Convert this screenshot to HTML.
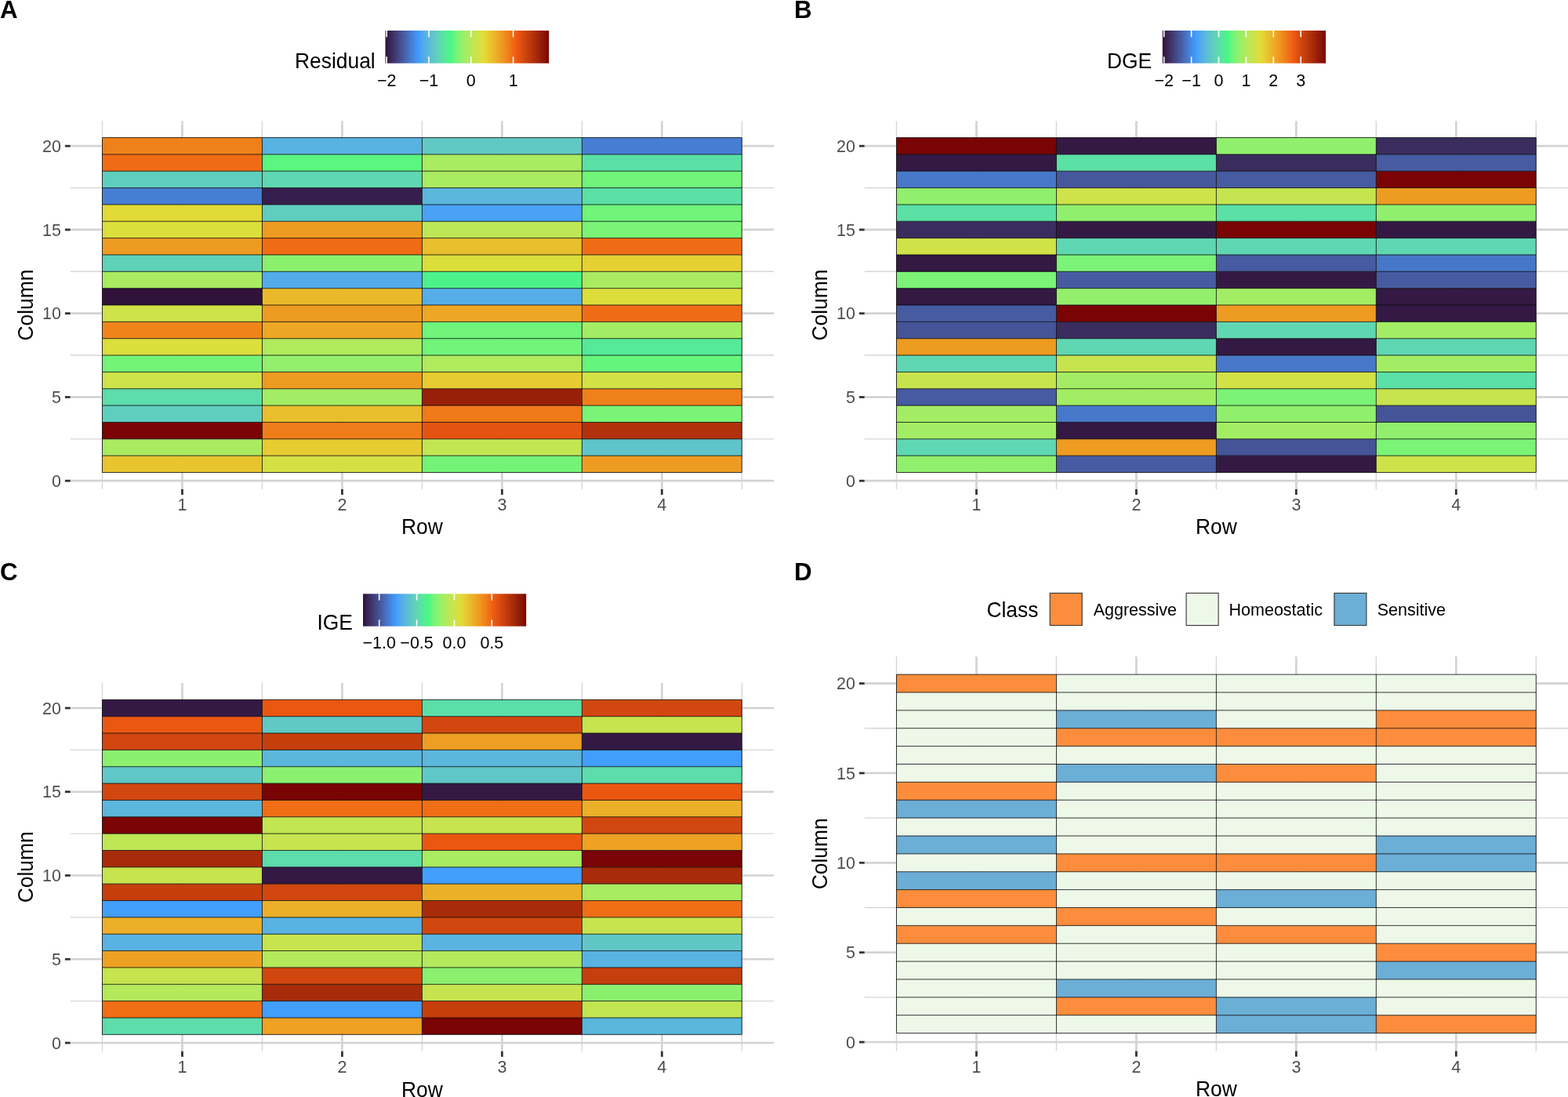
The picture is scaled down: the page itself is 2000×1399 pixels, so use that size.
<!DOCTYPE html>
<html><head><meta charset="utf-8"><title>Figure</title>
<style>html,body{margin:0;padding:0;background:#fff;} svg{display:block;} text{font-family:'Liberation Sans', Arial, Helvetica, sans-serif;}</style>
</head><body>
<svg width="2000" height="1399" viewBox="0 0 2000 1399">
<rect width="2000" height="1399" fill="#fff"/>
<line x1="89.71" y1="559.83" x2="987.05" y2="559.83" stroke="#D6D6D6" stroke-width="1.4"/>
<line x1="89.71" y1="453.07" x2="987.05" y2="453.07" stroke="#D6D6D6" stroke-width="1.4"/>
<line x1="89.71" y1="346.32" x2="987.05" y2="346.32" stroke="#D6D6D6" stroke-width="1.4"/>
<line x1="89.71" y1="239.57" x2="987.05" y2="239.57" stroke="#D6D6D6" stroke-width="1.4"/>
<line x1="130.50" y1="154.17" x2="130.50" y2="623.88" stroke="#D6D6D6" stroke-width="1.4"/>
<line x1="334.44" y1="154.17" x2="334.44" y2="623.88" stroke="#D6D6D6" stroke-width="1.4"/>
<line x1="538.38" y1="154.17" x2="538.38" y2="623.88" stroke="#D6D6D6" stroke-width="1.4"/>
<line x1="742.32" y1="154.17" x2="742.32" y2="623.88" stroke="#D6D6D6" stroke-width="1.4"/>
<line x1="946.26" y1="154.17" x2="946.26" y2="623.88" stroke="#D6D6D6" stroke-width="1.4"/>
<line x1="89.71" y1="613.20" x2="987.05" y2="613.20" stroke="#D3D3D3" stroke-width="2.7"/>
<line x1="89.71" y1="506.45" x2="987.05" y2="506.45" stroke="#D3D3D3" stroke-width="2.7"/>
<line x1="89.71" y1="399.70" x2="987.05" y2="399.70" stroke="#D3D3D3" stroke-width="2.7"/>
<line x1="89.71" y1="292.95" x2="987.05" y2="292.95" stroke="#D3D3D3" stroke-width="2.7"/>
<line x1="89.71" y1="186.20" x2="987.05" y2="186.20" stroke="#D3D3D3" stroke-width="2.7"/>
<line x1="232.47" y1="154.17" x2="232.47" y2="623.88" stroke="#D3D3D3" stroke-width="2.7"/>
<line x1="436.41" y1="154.17" x2="436.41" y2="623.88" stroke="#D3D3D3" stroke-width="2.7"/>
<line x1="640.35" y1="154.17" x2="640.35" y2="623.88" stroke="#D3D3D3" stroke-width="2.7"/>
<line x1="844.29" y1="154.17" x2="844.29" y2="623.88" stroke="#D3D3D3" stroke-width="2.7"/>
<rect x="130.50" y="581.17" width="203.94" height="21.35" fill="#e8c52f"/>
<rect x="334.44" y="581.17" width="203.94" height="21.35" fill="#d5e143"/>
<rect x="538.38" y="581.17" width="203.94" height="21.35" fill="#75f378"/>
<rect x="742.32" y="581.17" width="203.94" height="21.35" fill="#ee9b21"/>
<rect x="130.50" y="559.83" width="203.94" height="21.35" fill="#a9eb61"/>
<rect x="334.44" y="559.83" width="203.94" height="21.35" fill="#e6cb31"/>
<rect x="538.38" y="559.83" width="203.94" height="21.35" fill="#c2e652"/>
<rect x="742.32" y="559.83" width="203.94" height="21.35" fill="#5fc5ca"/>
<rect x="130.50" y="538.48" width="203.94" height="21.35" fill="#7a0403"/>
<rect x="334.44" y="538.48" width="203.94" height="21.35" fill="#f07d19"/>
<rect x="538.38" y="538.48" width="203.94" height="21.35" fill="#e45311"/>
<rect x="742.32" y="538.48" width="203.94" height="21.35" fill="#b0310b"/>
<rect x="130.50" y="517.12" width="203.94" height="21.35" fill="#60cebe"/>
<rect x="334.44" y="517.12" width="203.94" height="21.35" fill="#e9bf2d"/>
<rect x="538.38" y="517.12" width="203.94" height="21.35" fill="#f07918"/>
<rect x="742.32" y="517.12" width="203.94" height="21.35" fill="#7af376"/>
<rect x="130.50" y="495.78" width="203.94" height="21.35" fill="#5ddcac"/>
<rect x="334.44" y="495.78" width="203.94" height="21.35" fill="#a3ed64"/>
<rect x="538.38" y="495.78" width="203.94" height="21.35" fill="#992008"/>
<rect x="742.32" y="495.78" width="203.94" height="21.35" fill="#f0801a"/>
<rect x="130.50" y="474.43" width="203.94" height="21.35" fill="#cde349"/>
<rect x="334.44" y="474.43" width="203.94" height="21.35" fill="#ee9b21"/>
<rect x="538.38" y="474.43" width="203.94" height="21.35" fill="#e6cb31"/>
<rect x="742.32" y="474.43" width="203.94" height="21.35" fill="#d2e145"/>
<rect x="130.50" y="453.07" width="203.94" height="21.35" fill="#75f378"/>
<rect x="334.44" y="453.07" width="203.94" height="21.35" fill="#94ef6c"/>
<rect x="538.38" y="453.07" width="203.94" height="21.35" fill="#b0ea5d"/>
<rect x="742.32" y="453.07" width="203.94" height="21.35" fill="#64f57d"/>
<rect x="130.50" y="431.73" width="203.94" height="21.35" fill="#dcde3c"/>
<rect x="334.44" y="431.73" width="203.94" height="21.35" fill="#b0ea5d"/>
<rect x="538.38" y="431.73" width="203.94" height="21.35" fill="#70f47a"/>
<rect x="742.32" y="431.73" width="203.94" height="21.35" fill="#55ea99"/>
<rect x="130.50" y="410.38" width="203.94" height="21.35" fill="#f0841b"/>
<rect x="334.44" y="410.38" width="203.94" height="21.35" fill="#eda725"/>
<rect x="538.38" y="410.38" width="203.94" height="21.35" fill="#70f47a"/>
<rect x="742.32" y="410.38" width="203.94" height="21.35" fill="#a3ed64"/>
<rect x="130.50" y="389.02" width="203.94" height="21.35" fill="#cde349"/>
<rect x="334.44" y="389.02" width="203.94" height="21.35" fill="#ee9b21"/>
<rect x="538.38" y="389.02" width="203.94" height="21.35" fill="#eda725"/>
<rect x="742.32" y="389.02" width="203.94" height="21.35" fill="#f06b15"/>
<rect x="130.50" y="367.68" width="203.94" height="21.35" fill="#30123b"/>
<rect x="334.44" y="367.68" width="203.94" height="21.35" fill="#eab92b"/>
<rect x="538.38" y="367.68" width="203.94" height="21.35" fill="#55aee7"/>
<rect x="742.32" y="367.68" width="203.94" height="21.35" fill="#dcde3c"/>
<rect x="130.50" y="346.32" width="203.94" height="21.35" fill="#a9eb61"/>
<rect x="334.44" y="346.32" width="203.94" height="21.35" fill="#53abea"/>
<rect x="538.38" y="346.32" width="203.94" height="21.35" fill="#4cf38b"/>
<rect x="742.32" y="346.32" width="203.94" height="21.35" fill="#a9eb61"/>
<rect x="130.50" y="324.98" width="203.94" height="21.35" fill="#5fd2b8"/>
<rect x="334.44" y="324.98" width="203.94" height="21.35" fill="#8cf06f"/>
<rect x="538.38" y="324.98" width="203.94" height="21.35" fill="#dcde3c"/>
<rect x="742.32" y="324.98" width="203.94" height="21.35" fill="#e5d133"/>
<rect x="130.50" y="303.62" width="203.94" height="21.35" fill="#ee9b21"/>
<rect x="334.44" y="303.62" width="203.94" height="21.35" fill="#f06b15"/>
<rect x="538.38" y="303.62" width="203.94" height="21.35" fill="#e9bf2d"/>
<rect x="742.32" y="303.62" width="203.94" height="21.35" fill="#f06b15"/>
<rect x="130.50" y="282.27" width="203.94" height="21.35" fill="#dcde3c"/>
<rect x="334.44" y="282.27" width="203.94" height="21.35" fill="#ee9b21"/>
<rect x="538.38" y="282.27" width="203.94" height="21.35" fill="#bce756"/>
<rect x="742.32" y="282.27" width="203.94" height="21.35" fill="#7af376"/>
<rect x="130.50" y="260.93" width="203.94" height="21.35" fill="#e2da36"/>
<rect x="334.44" y="260.93" width="203.94" height="21.35" fill="#60cebe"/>
<rect x="538.38" y="260.93" width="203.94" height="21.35" fill="#49a2f6"/>
<rect x="742.32" y="260.93" width="203.94" height="21.35" fill="#70f47a"/>
<rect x="130.50" y="239.57" width="203.94" height="21.35" fill="#467ed4"/>
<rect x="334.44" y="239.57" width="203.94" height="21.35" fill="#361f4c"/>
<rect x="538.38" y="239.57" width="203.94" height="21.35" fill="#5bb7dc"/>
<rect x="742.32" y="239.57" width="203.94" height="21.35" fill="#5be0a6"/>
<rect x="130.50" y="218.22" width="203.94" height="21.35" fill="#60cebe"/>
<rect x="334.44" y="218.22" width="203.94" height="21.35" fill="#5fd7b2"/>
<rect x="538.38" y="218.22" width="203.94" height="21.35" fill="#a9eb61"/>
<rect x="742.32" y="218.22" width="203.94" height="21.35" fill="#70f47a"/>
<rect x="130.50" y="196.88" width="203.94" height="21.35" fill="#f06b15"/>
<rect x="334.44" y="196.88" width="203.94" height="21.35" fill="#5af680"/>
<rect x="538.38" y="196.88" width="203.94" height="21.35" fill="#a9eb61"/>
<rect x="742.32" y="196.88" width="203.94" height="21.35" fill="#5be0a6"/>
<rect x="130.50" y="175.52" width="203.94" height="21.35" fill="#f0801a"/>
<rect x="334.44" y="175.52" width="203.94" height="21.35" fill="#58b2e2"/>
<rect x="538.38" y="175.52" width="203.94" height="21.35" fill="#60c9c4"/>
<rect x="742.32" y="175.52" width="203.94" height="21.35" fill="#467ed4"/>
<line x1="130.50" y1="602.53" x2="946.26" y2="602.53" stroke="#000" stroke-opacity="0.78" stroke-width="1.0"/>
<line x1="130.50" y1="581.17" x2="946.26" y2="581.17" stroke="#000" stroke-opacity="0.78" stroke-width="1.0"/>
<line x1="130.50" y1="559.83" x2="946.26" y2="559.83" stroke="#000" stroke-opacity="0.78" stroke-width="1.0"/>
<line x1="130.50" y1="538.48" x2="946.26" y2="538.48" stroke="#000" stroke-opacity="0.78" stroke-width="1.0"/>
<line x1="130.50" y1="517.12" x2="946.26" y2="517.12" stroke="#000" stroke-opacity="0.78" stroke-width="1.0"/>
<line x1="130.50" y1="495.78" x2="946.26" y2="495.78" stroke="#000" stroke-opacity="0.78" stroke-width="1.0"/>
<line x1="130.50" y1="474.43" x2="946.26" y2="474.43" stroke="#000" stroke-opacity="0.78" stroke-width="1.0"/>
<line x1="130.50" y1="453.07" x2="946.26" y2="453.07" stroke="#000" stroke-opacity="0.78" stroke-width="1.0"/>
<line x1="130.50" y1="431.73" x2="946.26" y2="431.73" stroke="#000" stroke-opacity="0.78" stroke-width="1.0"/>
<line x1="130.50" y1="410.38" x2="946.26" y2="410.38" stroke="#000" stroke-opacity="0.78" stroke-width="1.0"/>
<line x1="130.50" y1="389.02" x2="946.26" y2="389.02" stroke="#000" stroke-opacity="0.78" stroke-width="1.0"/>
<line x1="130.50" y1="367.68" x2="946.26" y2="367.68" stroke="#000" stroke-opacity="0.78" stroke-width="1.0"/>
<line x1="130.50" y1="346.32" x2="946.26" y2="346.32" stroke="#000" stroke-opacity="0.78" stroke-width="1.0"/>
<line x1="130.50" y1="324.98" x2="946.26" y2="324.98" stroke="#000" stroke-opacity="0.78" stroke-width="1.0"/>
<line x1="130.50" y1="303.62" x2="946.26" y2="303.62" stroke="#000" stroke-opacity="0.78" stroke-width="1.0"/>
<line x1="130.50" y1="282.27" x2="946.26" y2="282.27" stroke="#000" stroke-opacity="0.78" stroke-width="1.0"/>
<line x1="130.50" y1="260.93" x2="946.26" y2="260.93" stroke="#000" stroke-opacity="0.78" stroke-width="1.0"/>
<line x1="130.50" y1="239.57" x2="946.26" y2="239.57" stroke="#000" stroke-opacity="0.78" stroke-width="1.0"/>
<line x1="130.50" y1="218.22" x2="946.26" y2="218.22" stroke="#000" stroke-opacity="0.78" stroke-width="1.0"/>
<line x1="130.50" y1="196.88" x2="946.26" y2="196.88" stroke="#000" stroke-opacity="0.78" stroke-width="1.0"/>
<line x1="130.50" y1="175.52" x2="946.26" y2="175.52" stroke="#000" stroke-opacity="0.78" stroke-width="1.0"/>
<line x1="130.50" y1="175.52" x2="130.50" y2="602.53" stroke="#000" stroke-opacity="0.78" stroke-width="1.0"/>
<line x1="334.44" y1="175.52" x2="334.44" y2="602.53" stroke="#000" stroke-opacity="0.78" stroke-width="1.0"/>
<line x1="538.38" y1="175.52" x2="538.38" y2="602.53" stroke="#000" stroke-opacity="0.78" stroke-width="1.0"/>
<line x1="742.32" y1="175.52" x2="742.32" y2="602.53" stroke="#000" stroke-opacity="0.78" stroke-width="1.0"/>
<line x1="946.26" y1="175.52" x2="946.26" y2="602.53" stroke="#000" stroke-opacity="0.78" stroke-width="1.0"/>
<line x1="82.91" y1="613.20" x2="89.71" y2="613.20" stroke="#333333" stroke-width="2.8"/>
<text transform="translate(77.91,620.80) scale(1,1.01)" text-anchor="end" font-size="21.5" fill="#4D4D4D">0</text>
<line x1="82.91" y1="506.45" x2="89.71" y2="506.45" stroke="#333333" stroke-width="2.8"/>
<text transform="translate(77.91,514.05) scale(1,1.01)" text-anchor="end" font-size="21.5" fill="#4D4D4D">5</text>
<line x1="82.91" y1="399.70" x2="89.71" y2="399.70" stroke="#333333" stroke-width="2.8"/>
<text transform="translate(77.91,407.30) scale(1,1.01)" text-anchor="end" font-size="21.5" fill="#4D4D4D">10</text>
<line x1="82.91" y1="292.95" x2="89.71" y2="292.95" stroke="#333333" stroke-width="2.8"/>
<text transform="translate(77.91,300.55) scale(1,1.01)" text-anchor="end" font-size="21.5" fill="#4D4D4D">15</text>
<line x1="82.91" y1="186.20" x2="89.71" y2="186.20" stroke="#333333" stroke-width="2.8"/>
<text transform="translate(77.91,193.80) scale(1,1.01)" text-anchor="end" font-size="21.5" fill="#4D4D4D">20</text>
<line x1="232.47" y1="623.88" x2="232.47" y2="630.98" stroke="#333333" stroke-width="2.8"/>
<text transform="translate(232.47,651.17) scale(1,1.01)" text-anchor="middle" font-size="21.5" fill="#4D4D4D">1</text>
<line x1="436.41" y1="623.88" x2="436.41" y2="630.98" stroke="#333333" stroke-width="2.8"/>
<text transform="translate(436.41,651.17) scale(1,1.01)" text-anchor="middle" font-size="21.5" fill="#4D4D4D">2</text>
<line x1="640.35" y1="623.88" x2="640.35" y2="630.98" stroke="#333333" stroke-width="2.8"/>
<text transform="translate(640.35,651.17) scale(1,1.01)" text-anchor="middle" font-size="21.5" fill="#4D4D4D">3</text>
<line x1="844.29" y1="623.88" x2="844.29" y2="630.98" stroke="#333333" stroke-width="2.8"/>
<text transform="translate(844.29,651.17) scale(1,1.01)" text-anchor="middle" font-size="21.5" fill="#4D4D4D">4</text>
<text transform="translate(538.38,680.67) scale(1,1.04)" text-anchor="middle" font-size="26.4" fill="#000">Row</text>
<text transform="translate(42.20,389.02) rotate(-90) scale(1,1.04)" text-anchor="middle" font-size="26.4" fill="#000">Column</text>
<text transform="translate(0.10,22.80) scale(1,1.025)" font-size="31.3" font-weight="bold" fill="#000">A</text>
<line x1="1102.71" y1="559.83" x2="2000.05" y2="559.83" stroke="#D6D6D6" stroke-width="1.4"/>
<line x1="1102.71" y1="453.07" x2="2000.05" y2="453.07" stroke="#D6D6D6" stroke-width="1.4"/>
<line x1="1102.71" y1="346.32" x2="2000.05" y2="346.32" stroke="#D6D6D6" stroke-width="1.4"/>
<line x1="1102.71" y1="239.57" x2="2000.05" y2="239.57" stroke="#D6D6D6" stroke-width="1.4"/>
<line x1="1143.50" y1="154.17" x2="1143.50" y2="623.88" stroke="#D6D6D6" stroke-width="1.4"/>
<line x1="1347.44" y1="154.17" x2="1347.44" y2="623.88" stroke="#D6D6D6" stroke-width="1.4"/>
<line x1="1551.38" y1="154.17" x2="1551.38" y2="623.88" stroke="#D6D6D6" stroke-width="1.4"/>
<line x1="1755.32" y1="154.17" x2="1755.32" y2="623.88" stroke="#D6D6D6" stroke-width="1.4"/>
<line x1="1959.26" y1="154.17" x2="1959.26" y2="623.88" stroke="#D6D6D6" stroke-width="1.4"/>
<line x1="1102.71" y1="613.20" x2="2000.05" y2="613.20" stroke="#D3D3D3" stroke-width="2.7"/>
<line x1="1102.71" y1="506.45" x2="2000.05" y2="506.45" stroke="#D3D3D3" stroke-width="2.7"/>
<line x1="1102.71" y1="399.70" x2="2000.05" y2="399.70" stroke="#D3D3D3" stroke-width="2.7"/>
<line x1="1102.71" y1="292.95" x2="2000.05" y2="292.95" stroke="#D3D3D3" stroke-width="2.7"/>
<line x1="1102.71" y1="186.20" x2="2000.05" y2="186.20" stroke="#D3D3D3" stroke-width="2.7"/>
<line x1="1245.47" y1="154.17" x2="1245.47" y2="623.88" stroke="#D3D3D3" stroke-width="2.7"/>
<line x1="1449.41" y1="154.17" x2="1449.41" y2="623.88" stroke="#D3D3D3" stroke-width="2.7"/>
<line x1="1653.35" y1="154.17" x2="1653.35" y2="623.88" stroke="#D3D3D3" stroke-width="2.7"/>
<line x1="1857.29" y1="154.17" x2="1857.29" y2="623.88" stroke="#D3D3D3" stroke-width="2.7"/>
<rect x="1143.50" y="581.17" width="203.94" height="21.35" fill="#90f06d"/>
<rect x="1347.44" y="581.17" width="203.94" height="21.35" fill="#465ba1"/>
<rect x="1551.38" y="581.17" width="203.94" height="21.35" fill="#341944"/>
<rect x="1755.32" y="581.17" width="203.94" height="21.35" fill="#cde349"/>
<rect x="1143.50" y="559.83" width="203.94" height="21.35" fill="#5fd7b2"/>
<rect x="1347.44" y="559.83" width="203.94" height="21.35" fill="#ee9b21"/>
<rect x="1551.38" y="559.83" width="203.94" height="21.35" fill="#455497"/>
<rect x="1755.32" y="559.83" width="203.94" height="21.35" fill="#7af376"/>
<rect x="1143.50" y="538.48" width="203.94" height="21.35" fill="#a3ed64"/>
<rect x="1347.44" y="538.48" width="203.94" height="21.35" fill="#341944"/>
<rect x="1551.38" y="538.48" width="203.94" height="21.35" fill="#a3ed64"/>
<rect x="1755.32" y="538.48" width="203.94" height="21.35" fill="#90f06d"/>
<rect x="1143.50" y="517.12" width="203.94" height="21.35" fill="#a3ed64"/>
<rect x="1347.44" y="517.12" width="203.94" height="21.35" fill="#4777c9"/>
<rect x="1551.38" y="517.12" width="203.94" height="21.35" fill="#90f06d"/>
<rect x="1755.32" y="517.12" width="203.94" height="21.35" fill="#455497"/>
<rect x="1143.50" y="495.78" width="203.94" height="21.35" fill="#465ba1"/>
<rect x="1347.44" y="495.78" width="203.94" height="21.35" fill="#a3ed64"/>
<rect x="1551.38" y="495.78" width="203.94" height="21.35" fill="#7af376"/>
<rect x="1755.32" y="495.78" width="203.94" height="21.35" fill="#c7e44e"/>
<rect x="1143.50" y="474.43" width="203.94" height="21.35" fill="#c7e44e"/>
<rect x="1347.44" y="474.43" width="203.94" height="21.35" fill="#a3ed64"/>
<rect x="1551.38" y="474.43" width="203.94" height="21.35" fill="#d2e145"/>
<rect x="1755.32" y="474.43" width="203.94" height="21.35" fill="#5be0a6"/>
<rect x="1143.50" y="453.07" width="203.94" height="21.35" fill="#5fd7b2"/>
<rect x="1347.44" y="453.07" width="203.94" height="21.35" fill="#c7e44e"/>
<rect x="1551.38" y="453.07" width="203.94" height="21.35" fill="#4777c9"/>
<rect x="1755.32" y="453.07" width="203.94" height="21.35" fill="#a3ed64"/>
<rect x="1143.50" y="431.73" width="203.94" height="21.35" fill="#ee9b21"/>
<rect x="1347.44" y="431.73" width="203.94" height="21.35" fill="#5fd7b2"/>
<rect x="1551.38" y="431.73" width="203.94" height="21.35" fill="#341944"/>
<rect x="1755.32" y="431.73" width="203.94" height="21.35" fill="#5fd7b2"/>
<rect x="1143.50" y="410.38" width="203.94" height="21.35" fill="#455497"/>
<rect x="1347.44" y="410.38" width="203.94" height="21.35" fill="#3b2c5e"/>
<rect x="1551.38" y="410.38" width="203.94" height="21.35" fill="#5fd7b2"/>
<rect x="1755.32" y="410.38" width="203.94" height="21.35" fill="#a3ed64"/>
<rect x="1143.50" y="389.02" width="203.94" height="21.35" fill="#465ba1"/>
<rect x="1347.44" y="389.02" width="203.94" height="21.35" fill="#7a0403"/>
<rect x="1551.38" y="389.02" width="203.94" height="21.35" fill="#ee9b21"/>
<rect x="1755.32" y="389.02" width="203.94" height="21.35" fill="#341944"/>
<rect x="1143.50" y="367.68" width="203.94" height="21.35" fill="#341944"/>
<rect x="1347.44" y="367.68" width="203.94" height="21.35" fill="#94ef6c"/>
<rect x="1551.38" y="367.68" width="203.94" height="21.35" fill="#a3ed64"/>
<rect x="1755.32" y="367.68" width="203.94" height="21.35" fill="#341944"/>
<rect x="1143.50" y="346.32" width="203.94" height="21.35" fill="#7af376"/>
<rect x="1347.44" y="346.32" width="203.94" height="21.35" fill="#465ba1"/>
<rect x="1551.38" y="346.32" width="203.94" height="21.35" fill="#341944"/>
<rect x="1755.32" y="346.32" width="203.94" height="21.35" fill="#465ba1"/>
<rect x="1143.50" y="324.98" width="203.94" height="21.35" fill="#341944"/>
<rect x="1347.44" y="324.98" width="203.94" height="21.35" fill="#7af376"/>
<rect x="1551.38" y="324.98" width="203.94" height="21.35" fill="#465ba1"/>
<rect x="1755.32" y="324.98" width="203.94" height="21.35" fill="#4777c9"/>
<rect x="1143.50" y="303.62" width="203.94" height="21.35" fill="#d0e247"/>
<rect x="1347.44" y="303.62" width="203.94" height="21.35" fill="#5fd7b2"/>
<rect x="1551.38" y="303.62" width="203.94" height="21.35" fill="#5fd7b2"/>
<rect x="1755.32" y="303.62" width="203.94" height="21.35" fill="#5fd7b2"/>
<rect x="1143.50" y="282.27" width="203.94" height="21.35" fill="#3b2c5e"/>
<rect x="1347.44" y="282.27" width="203.94" height="21.35" fill="#341944"/>
<rect x="1551.38" y="282.27" width="203.94" height="21.35" fill="#7a0403"/>
<rect x="1755.32" y="282.27" width="203.94" height="21.35" fill="#341944"/>
<rect x="1143.50" y="260.93" width="203.94" height="21.35" fill="#5be0a6"/>
<rect x="1347.44" y="260.93" width="203.94" height="21.35" fill="#90f06d"/>
<rect x="1551.38" y="260.93" width="203.94" height="21.35" fill="#5be0a6"/>
<rect x="1755.32" y="260.93" width="203.94" height="21.35" fill="#90f06d"/>
<rect x="1143.50" y="239.57" width="203.94" height="21.35" fill="#90f06d"/>
<rect x="1347.44" y="239.57" width="203.94" height="21.35" fill="#cde349"/>
<rect x="1551.38" y="239.57" width="203.94" height="21.35" fill="#c5e550"/>
<rect x="1755.32" y="239.57" width="203.94" height="21.35" fill="#ee9b21"/>
<rect x="1143.50" y="218.22" width="203.94" height="21.35" fill="#4777c9"/>
<rect x="1347.44" y="218.22" width="203.94" height="21.35" fill="#46579c"/>
<rect x="1551.38" y="218.22" width="203.94" height="21.35" fill="#465ba1"/>
<rect x="1755.32" y="218.22" width="203.94" height="21.35" fill="#7a0403"/>
<rect x="1143.50" y="196.88" width="203.94" height="21.35" fill="#341944"/>
<rect x="1347.44" y="196.88" width="203.94" height="21.35" fill="#5be0a6"/>
<rect x="1551.38" y="196.88" width="203.94" height="21.35" fill="#3b2c5e"/>
<rect x="1755.32" y="196.88" width="203.94" height="21.35" fill="#465ba1"/>
<rect x="1143.50" y="175.52" width="203.94" height="21.35" fill="#7a0403"/>
<rect x="1347.44" y="175.52" width="203.94" height="21.35" fill="#341944"/>
<rect x="1551.38" y="175.52" width="203.94" height="21.35" fill="#90f06d"/>
<rect x="1755.32" y="175.52" width="203.94" height="21.35" fill="#3b2c5e"/>
<line x1="1143.50" y1="602.53" x2="1959.26" y2="602.53" stroke="#000" stroke-opacity="0.78" stroke-width="1.0"/>
<line x1="1143.50" y1="581.17" x2="1959.26" y2="581.17" stroke="#000" stroke-opacity="0.78" stroke-width="1.0"/>
<line x1="1143.50" y1="559.83" x2="1959.26" y2="559.83" stroke="#000" stroke-opacity="0.78" stroke-width="1.0"/>
<line x1="1143.50" y1="538.48" x2="1959.26" y2="538.48" stroke="#000" stroke-opacity="0.78" stroke-width="1.0"/>
<line x1="1143.50" y1="517.12" x2="1959.26" y2="517.12" stroke="#000" stroke-opacity="0.78" stroke-width="1.0"/>
<line x1="1143.50" y1="495.78" x2="1959.26" y2="495.78" stroke="#000" stroke-opacity="0.78" stroke-width="1.0"/>
<line x1="1143.50" y1="474.43" x2="1959.26" y2="474.43" stroke="#000" stroke-opacity="0.78" stroke-width="1.0"/>
<line x1="1143.50" y1="453.07" x2="1959.26" y2="453.07" stroke="#000" stroke-opacity="0.78" stroke-width="1.0"/>
<line x1="1143.50" y1="431.73" x2="1959.26" y2="431.73" stroke="#000" stroke-opacity="0.78" stroke-width="1.0"/>
<line x1="1143.50" y1="410.38" x2="1959.26" y2="410.38" stroke="#000" stroke-opacity="0.78" stroke-width="1.0"/>
<line x1="1143.50" y1="389.02" x2="1959.26" y2="389.02" stroke="#000" stroke-opacity="0.78" stroke-width="1.0"/>
<line x1="1143.50" y1="367.68" x2="1959.26" y2="367.68" stroke="#000" stroke-opacity="0.78" stroke-width="1.0"/>
<line x1="1143.50" y1="346.32" x2="1959.26" y2="346.32" stroke="#000" stroke-opacity="0.78" stroke-width="1.0"/>
<line x1="1143.50" y1="324.98" x2="1959.26" y2="324.98" stroke="#000" stroke-opacity="0.78" stroke-width="1.0"/>
<line x1="1143.50" y1="303.62" x2="1959.26" y2="303.62" stroke="#000" stroke-opacity="0.78" stroke-width="1.0"/>
<line x1="1143.50" y1="282.27" x2="1959.26" y2="282.27" stroke="#000" stroke-opacity="0.78" stroke-width="1.0"/>
<line x1="1143.50" y1="260.93" x2="1959.26" y2="260.93" stroke="#000" stroke-opacity="0.78" stroke-width="1.0"/>
<line x1="1143.50" y1="239.57" x2="1959.26" y2="239.57" stroke="#000" stroke-opacity="0.78" stroke-width="1.0"/>
<line x1="1143.50" y1="218.22" x2="1959.26" y2="218.22" stroke="#000" stroke-opacity="0.78" stroke-width="1.0"/>
<line x1="1143.50" y1="196.88" x2="1959.26" y2="196.88" stroke="#000" stroke-opacity="0.78" stroke-width="1.0"/>
<line x1="1143.50" y1="175.52" x2="1959.26" y2="175.52" stroke="#000" stroke-opacity="0.78" stroke-width="1.0"/>
<line x1="1143.50" y1="175.52" x2="1143.50" y2="602.53" stroke="#000" stroke-opacity="0.78" stroke-width="1.0"/>
<line x1="1347.44" y1="175.52" x2="1347.44" y2="602.53" stroke="#000" stroke-opacity="0.78" stroke-width="1.0"/>
<line x1="1551.38" y1="175.52" x2="1551.38" y2="602.53" stroke="#000" stroke-opacity="0.78" stroke-width="1.0"/>
<line x1="1755.32" y1="175.52" x2="1755.32" y2="602.53" stroke="#000" stroke-opacity="0.78" stroke-width="1.0"/>
<line x1="1959.26" y1="175.52" x2="1959.26" y2="602.53" stroke="#000" stroke-opacity="0.78" stroke-width="1.0"/>
<line x1="1095.91" y1="613.20" x2="1102.71" y2="613.20" stroke="#333333" stroke-width="2.8"/>
<text transform="translate(1090.91,620.80) scale(1,1.01)" text-anchor="end" font-size="21.5" fill="#4D4D4D">0</text>
<line x1="1095.91" y1="506.45" x2="1102.71" y2="506.45" stroke="#333333" stroke-width="2.8"/>
<text transform="translate(1090.91,514.05) scale(1,1.01)" text-anchor="end" font-size="21.5" fill="#4D4D4D">5</text>
<line x1="1095.91" y1="399.70" x2="1102.71" y2="399.70" stroke="#333333" stroke-width="2.8"/>
<text transform="translate(1090.91,407.30) scale(1,1.01)" text-anchor="end" font-size="21.5" fill="#4D4D4D">10</text>
<line x1="1095.91" y1="292.95" x2="1102.71" y2="292.95" stroke="#333333" stroke-width="2.8"/>
<text transform="translate(1090.91,300.55) scale(1,1.01)" text-anchor="end" font-size="21.5" fill="#4D4D4D">15</text>
<line x1="1095.91" y1="186.20" x2="1102.71" y2="186.20" stroke="#333333" stroke-width="2.8"/>
<text transform="translate(1090.91,193.80) scale(1,1.01)" text-anchor="end" font-size="21.5" fill="#4D4D4D">20</text>
<line x1="1245.47" y1="623.88" x2="1245.47" y2="630.98" stroke="#333333" stroke-width="2.8"/>
<text transform="translate(1245.47,651.17) scale(1,1.01)" text-anchor="middle" font-size="21.5" fill="#4D4D4D">1</text>
<line x1="1449.41" y1="623.88" x2="1449.41" y2="630.98" stroke="#333333" stroke-width="2.8"/>
<text transform="translate(1449.41,651.17) scale(1,1.01)" text-anchor="middle" font-size="21.5" fill="#4D4D4D">2</text>
<line x1="1653.35" y1="623.88" x2="1653.35" y2="630.98" stroke="#333333" stroke-width="2.8"/>
<text transform="translate(1653.35,651.17) scale(1,1.01)" text-anchor="middle" font-size="21.5" fill="#4D4D4D">3</text>
<line x1="1857.29" y1="623.88" x2="1857.29" y2="630.98" stroke="#333333" stroke-width="2.8"/>
<text transform="translate(1857.29,651.17) scale(1,1.01)" text-anchor="middle" font-size="21.5" fill="#4D4D4D">4</text>
<text transform="translate(1551.38,680.67) scale(1,1.04)" text-anchor="middle" font-size="26.4" fill="#000">Row</text>
<text transform="translate(1055.20,389.02) rotate(-90) scale(1,1.04)" text-anchor="middle" font-size="26.4" fill="#000">Column</text>
<text transform="translate(1013.10,22.80) scale(1,1.025)" font-size="31.3" font-weight="bold" fill="#000">B</text>
<line x1="89.71" y1="1276.62" x2="987.05" y2="1276.62" stroke="#D6D6D6" stroke-width="1.4"/>
<line x1="89.71" y1="1169.88" x2="987.05" y2="1169.88" stroke="#D6D6D6" stroke-width="1.4"/>
<line x1="89.71" y1="1063.12" x2="987.05" y2="1063.12" stroke="#D6D6D6" stroke-width="1.4"/>
<line x1="89.71" y1="956.38" x2="987.05" y2="956.38" stroke="#D6D6D6" stroke-width="1.4"/>
<line x1="130.50" y1="870.98" x2="130.50" y2="1340.67" stroke="#D6D6D6" stroke-width="1.4"/>
<line x1="334.44" y1="870.98" x2="334.44" y2="1340.67" stroke="#D6D6D6" stroke-width="1.4"/>
<line x1="538.38" y1="870.98" x2="538.38" y2="1340.67" stroke="#D6D6D6" stroke-width="1.4"/>
<line x1="742.32" y1="870.98" x2="742.32" y2="1340.67" stroke="#D6D6D6" stroke-width="1.4"/>
<line x1="946.26" y1="870.98" x2="946.26" y2="1340.67" stroke="#D6D6D6" stroke-width="1.4"/>
<line x1="89.71" y1="1330.00" x2="987.05" y2="1330.00" stroke="#D3D3D3" stroke-width="2.7"/>
<line x1="89.71" y1="1223.25" x2="987.05" y2="1223.25" stroke="#D3D3D3" stroke-width="2.7"/>
<line x1="89.71" y1="1116.50" x2="987.05" y2="1116.50" stroke="#D3D3D3" stroke-width="2.7"/>
<line x1="89.71" y1="1009.75" x2="987.05" y2="1009.75" stroke="#D3D3D3" stroke-width="2.7"/>
<line x1="89.71" y1="903.00" x2="987.05" y2="903.00" stroke="#D3D3D3" stroke-width="2.7"/>
<line x1="232.47" y1="870.98" x2="232.47" y2="1340.67" stroke="#D3D3D3" stroke-width="2.7"/>
<line x1="436.41" y1="870.98" x2="436.41" y2="1340.67" stroke="#D3D3D3" stroke-width="2.7"/>
<line x1="640.35" y1="870.98" x2="640.35" y2="1340.67" stroke="#D3D3D3" stroke-width="2.7"/>
<line x1="844.29" y1="870.98" x2="844.29" y2="1340.67" stroke="#D3D3D3" stroke-width="2.7"/>
<rect x="130.50" y="1297.97" width="203.94" height="21.35" fill="#5ddcac"/>
<rect x="334.44" y="1297.97" width="203.94" height="21.35" fill="#eea123"/>
<rect x="538.38" y="1297.97" width="203.94" height="21.35" fill="#7a0403"/>
<rect x="742.32" y="1297.97" width="203.94" height="21.35" fill="#5bb7dc"/>
<rect x="130.50" y="1276.62" width="203.94" height="21.35" fill="#f06e16"/>
<rect x="334.44" y="1276.62" width="203.94" height="21.35" fill="#429efb"/>
<rect x="538.38" y="1276.62" width="203.94" height="21.35" fill="#c53f0d"/>
<rect x="742.32" y="1276.62" width="203.94" height="21.35" fill="#c2e652"/>
<rect x="130.50" y="1255.28" width="203.94" height="21.35" fill="#b3e95b"/>
<rect x="334.44" y="1255.28" width="203.94" height="21.35" fill="#a82b0a"/>
<rect x="538.38" y="1255.28" width="203.94" height="21.35" fill="#c7e44e"/>
<rect x="742.32" y="1255.28" width="203.94" height="21.35" fill="#8cf06f"/>
<rect x="130.50" y="1233.92" width="203.94" height="21.35" fill="#c7e44e"/>
<rect x="334.44" y="1233.92" width="203.94" height="21.35" fill="#d1470f"/>
<rect x="538.38" y="1233.92" width="203.94" height="21.35" fill="#8cf06f"/>
<rect x="742.32" y="1233.92" width="203.94" height="21.35" fill="#c53f0d"/>
<rect x="130.50" y="1212.58" width="203.94" height="21.35" fill="#eea123"/>
<rect x="334.44" y="1212.58" width="203.94" height="21.35" fill="#b3e95b"/>
<rect x="538.38" y="1212.58" width="203.94" height="21.35" fill="#b3e95b"/>
<rect x="742.32" y="1212.58" width="203.94" height="21.35" fill="#58b2e2"/>
<rect x="130.50" y="1191.22" width="203.94" height="21.35" fill="#58b2e2"/>
<rect x="334.44" y="1191.22" width="203.94" height="21.35" fill="#c7e44e"/>
<rect x="538.38" y="1191.22" width="203.94" height="21.35" fill="#5ab4df"/>
<rect x="742.32" y="1191.22" width="203.94" height="21.35" fill="#60c7c7"/>
<rect x="130.50" y="1169.88" width="203.94" height="21.35" fill="#ecb028"/>
<rect x="334.44" y="1169.88" width="203.94" height="21.35" fill="#58b2e2"/>
<rect x="538.38" y="1169.88" width="203.94" height="21.35" fill="#d1470f"/>
<rect x="742.32" y="1169.88" width="203.94" height="21.35" fill="#c7e44e"/>
<rect x="130.50" y="1148.53" width="203.94" height="21.35" fill="#429efb"/>
<rect x="334.44" y="1148.53" width="203.94" height="21.35" fill="#ecb028"/>
<rect x="538.38" y="1148.53" width="203.94" height="21.35" fill="#a82b0a"/>
<rect x="742.32" y="1148.53" width="203.94" height="21.35" fill="#f06e16"/>
<rect x="130.50" y="1127.17" width="203.94" height="21.35" fill="#c53f0d"/>
<rect x="334.44" y="1127.17" width="203.94" height="21.35" fill="#d1470f"/>
<rect x="538.38" y="1127.17" width="203.94" height="21.35" fill="#ecb028"/>
<rect x="742.32" y="1127.17" width="203.94" height="21.35" fill="#a9eb61"/>
<rect x="130.50" y="1105.83" width="203.94" height="21.35" fill="#c7e44e"/>
<rect x="334.44" y="1105.83" width="203.94" height="21.35" fill="#341944"/>
<rect x="538.38" y="1105.83" width="203.94" height="21.35" fill="#429efb"/>
<rect x="742.32" y="1105.83" width="203.94" height="21.35" fill="#a82b0a"/>
<rect x="130.50" y="1084.47" width="203.94" height="21.35" fill="#a82b0a"/>
<rect x="334.44" y="1084.47" width="203.94" height="21.35" fill="#5ddcac"/>
<rect x="538.38" y="1084.47" width="203.94" height="21.35" fill="#a9eb61"/>
<rect x="742.32" y="1084.47" width="203.94" height="21.35" fill="#7a0403"/>
<rect x="130.50" y="1063.12" width="203.94" height="21.35" fill="#bfe654"/>
<rect x="334.44" y="1063.12" width="203.94" height="21.35" fill="#c7e44e"/>
<rect x="538.38" y="1063.12" width="203.94" height="21.35" fill="#ea5711"/>
<rect x="742.32" y="1063.12" width="203.94" height="21.35" fill="#eea123"/>
<rect x="130.50" y="1041.78" width="203.94" height="21.35" fill="#7a0403"/>
<rect x="334.44" y="1041.78" width="203.94" height="21.35" fill="#c2e652"/>
<rect x="538.38" y="1041.78" width="203.94" height="21.35" fill="#c7e44e"/>
<rect x="742.32" y="1041.78" width="203.94" height="21.35" fill="#d1470f"/>
<rect x="130.50" y="1020.42" width="203.94" height="21.35" fill="#5bb7dc"/>
<rect x="334.44" y="1020.42" width="203.94" height="21.35" fill="#f06e16"/>
<rect x="538.38" y="1020.42" width="203.94" height="21.35" fill="#f06e16"/>
<rect x="742.32" y="1020.42" width="203.94" height="21.35" fill="#ecb028"/>
<rect x="130.50" y="999.08" width="203.94" height="21.35" fill="#d1470f"/>
<rect x="334.44" y="999.08" width="203.94" height="21.35" fill="#7a0403"/>
<rect x="538.38" y="999.08" width="203.94" height="21.35" fill="#341944"/>
<rect x="742.32" y="999.08" width="203.94" height="21.35" fill="#ea5711"/>
<rect x="130.50" y="977.73" width="203.94" height="21.35" fill="#60c7c7"/>
<rect x="334.44" y="977.73" width="203.94" height="21.35" fill="#8cf06f"/>
<rect x="538.38" y="977.73" width="203.94" height="21.35" fill="#60c7c7"/>
<rect x="742.32" y="977.73" width="203.94" height="21.35" fill="#5ddcac"/>
<rect x="130.50" y="956.38" width="203.94" height="21.35" fill="#8cf06f"/>
<rect x="334.44" y="956.38" width="203.94" height="21.35" fill="#5bb7dc"/>
<rect x="538.38" y="956.38" width="203.94" height="21.35" fill="#5bb7dc"/>
<rect x="742.32" y="956.38" width="203.94" height="21.35" fill="#429efb"/>
<rect x="130.50" y="935.02" width="203.94" height="21.35" fill="#d1470f"/>
<rect x="334.44" y="935.02" width="203.94" height="21.35" fill="#c53f0d"/>
<rect x="538.38" y="935.02" width="203.94" height="21.35" fill="#ee9e22"/>
<rect x="742.32" y="935.02" width="203.94" height="21.35" fill="#341944"/>
<rect x="130.50" y="913.67" width="203.94" height="21.35" fill="#ea5711"/>
<rect x="334.44" y="913.67" width="203.94" height="21.35" fill="#60c9c4"/>
<rect x="538.38" y="913.67" width="203.94" height="21.35" fill="#d1470f"/>
<rect x="742.32" y="913.67" width="203.94" height="21.35" fill="#c7e44e"/>
<rect x="130.50" y="892.33" width="203.94" height="21.35" fill="#341944"/>
<rect x="334.44" y="892.33" width="203.94" height="21.35" fill="#ea5711"/>
<rect x="538.38" y="892.33" width="203.94" height="21.35" fill="#5cdea9"/>
<rect x="742.32" y="892.33" width="203.94" height="21.35" fill="#d1470f"/>
<line x1="130.50" y1="1319.33" x2="946.26" y2="1319.33" stroke="#000" stroke-opacity="0.78" stroke-width="1.0"/>
<line x1="130.50" y1="1297.97" x2="946.26" y2="1297.97" stroke="#000" stroke-opacity="0.78" stroke-width="1.0"/>
<line x1="130.50" y1="1276.62" x2="946.26" y2="1276.62" stroke="#000" stroke-opacity="0.78" stroke-width="1.0"/>
<line x1="130.50" y1="1255.28" x2="946.26" y2="1255.28" stroke="#000" stroke-opacity="0.78" stroke-width="1.0"/>
<line x1="130.50" y1="1233.92" x2="946.26" y2="1233.92" stroke="#000" stroke-opacity="0.78" stroke-width="1.0"/>
<line x1="130.50" y1="1212.58" x2="946.26" y2="1212.58" stroke="#000" stroke-opacity="0.78" stroke-width="1.0"/>
<line x1="130.50" y1="1191.22" x2="946.26" y2="1191.22" stroke="#000" stroke-opacity="0.78" stroke-width="1.0"/>
<line x1="130.50" y1="1169.88" x2="946.26" y2="1169.88" stroke="#000" stroke-opacity="0.78" stroke-width="1.0"/>
<line x1="130.50" y1="1148.53" x2="946.26" y2="1148.53" stroke="#000" stroke-opacity="0.78" stroke-width="1.0"/>
<line x1="130.50" y1="1127.17" x2="946.26" y2="1127.17" stroke="#000" stroke-opacity="0.78" stroke-width="1.0"/>
<line x1="130.50" y1="1105.83" x2="946.26" y2="1105.83" stroke="#000" stroke-opacity="0.78" stroke-width="1.0"/>
<line x1="130.50" y1="1084.47" x2="946.26" y2="1084.47" stroke="#000" stroke-opacity="0.78" stroke-width="1.0"/>
<line x1="130.50" y1="1063.12" x2="946.26" y2="1063.12" stroke="#000" stroke-opacity="0.78" stroke-width="1.0"/>
<line x1="130.50" y1="1041.78" x2="946.26" y2="1041.78" stroke="#000" stroke-opacity="0.78" stroke-width="1.0"/>
<line x1="130.50" y1="1020.42" x2="946.26" y2="1020.42" stroke="#000" stroke-opacity="0.78" stroke-width="1.0"/>
<line x1="130.50" y1="999.08" x2="946.26" y2="999.08" stroke="#000" stroke-opacity="0.78" stroke-width="1.0"/>
<line x1="130.50" y1="977.73" x2="946.26" y2="977.73" stroke="#000" stroke-opacity="0.78" stroke-width="1.0"/>
<line x1="130.50" y1="956.38" x2="946.26" y2="956.38" stroke="#000" stroke-opacity="0.78" stroke-width="1.0"/>
<line x1="130.50" y1="935.02" x2="946.26" y2="935.02" stroke="#000" stroke-opacity="0.78" stroke-width="1.0"/>
<line x1="130.50" y1="913.67" x2="946.26" y2="913.67" stroke="#000" stroke-opacity="0.78" stroke-width="1.0"/>
<line x1="130.50" y1="892.33" x2="946.26" y2="892.33" stroke="#000" stroke-opacity="0.78" stroke-width="1.0"/>
<line x1="130.50" y1="892.33" x2="130.50" y2="1319.33" stroke="#000" stroke-opacity="0.78" stroke-width="1.0"/>
<line x1="334.44" y1="892.33" x2="334.44" y2="1319.33" stroke="#000" stroke-opacity="0.78" stroke-width="1.0"/>
<line x1="538.38" y1="892.33" x2="538.38" y2="1319.33" stroke="#000" stroke-opacity="0.78" stroke-width="1.0"/>
<line x1="742.32" y1="892.33" x2="742.32" y2="1319.33" stroke="#000" stroke-opacity="0.78" stroke-width="1.0"/>
<line x1="946.26" y1="892.33" x2="946.26" y2="1319.33" stroke="#000" stroke-opacity="0.78" stroke-width="1.0"/>
<line x1="82.91" y1="1330.00" x2="89.71" y2="1330.00" stroke="#333333" stroke-width="2.8"/>
<text transform="translate(77.91,1337.60) scale(1,1.01)" text-anchor="end" font-size="21.5" fill="#4D4D4D">0</text>
<line x1="82.91" y1="1223.25" x2="89.71" y2="1223.25" stroke="#333333" stroke-width="2.8"/>
<text transform="translate(77.91,1230.85) scale(1,1.01)" text-anchor="end" font-size="21.5" fill="#4D4D4D">5</text>
<line x1="82.91" y1="1116.50" x2="89.71" y2="1116.50" stroke="#333333" stroke-width="2.8"/>
<text transform="translate(77.91,1124.10) scale(1,1.01)" text-anchor="end" font-size="21.5" fill="#4D4D4D">10</text>
<line x1="82.91" y1="1009.75" x2="89.71" y2="1009.75" stroke="#333333" stroke-width="2.8"/>
<text transform="translate(77.91,1017.35) scale(1,1.01)" text-anchor="end" font-size="21.5" fill="#4D4D4D">15</text>
<line x1="82.91" y1="903.00" x2="89.71" y2="903.00" stroke="#333333" stroke-width="2.8"/>
<text transform="translate(77.91,910.60) scale(1,1.01)" text-anchor="end" font-size="21.5" fill="#4D4D4D">20</text>
<line x1="232.47" y1="1340.67" x2="232.47" y2="1347.77" stroke="#333333" stroke-width="2.8"/>
<text transform="translate(232.47,1367.97) scale(1,1.01)" text-anchor="middle" font-size="21.5" fill="#4D4D4D">1</text>
<line x1="436.41" y1="1340.67" x2="436.41" y2="1347.77" stroke="#333333" stroke-width="2.8"/>
<text transform="translate(436.41,1367.97) scale(1,1.01)" text-anchor="middle" font-size="21.5" fill="#4D4D4D">2</text>
<line x1="640.35" y1="1340.67" x2="640.35" y2="1347.77" stroke="#333333" stroke-width="2.8"/>
<text transform="translate(640.35,1367.97) scale(1,1.01)" text-anchor="middle" font-size="21.5" fill="#4D4D4D">3</text>
<line x1="844.29" y1="1340.67" x2="844.29" y2="1347.77" stroke="#333333" stroke-width="2.8"/>
<text transform="translate(844.29,1367.97) scale(1,1.01)" text-anchor="middle" font-size="21.5" fill="#4D4D4D">4</text>
<text transform="translate(538.38,1398.67) scale(1,1.04)" text-anchor="middle" font-size="26.4" fill="#000">Row</text>
<text transform="translate(42.20,1105.83) rotate(-90) scale(1,1.04)" text-anchor="middle" font-size="26.4" fill="#000">Column</text>
<text transform="translate(0.10,739.70) scale(1,1.025)" font-size="31.3" font-weight="bold" fill="#000">C</text>
<line x1="1102.71" y1="1271.83" x2="2000.05" y2="1271.83" stroke="#D6D6D6" stroke-width="1.4"/>
<line x1="1102.71" y1="1157.47" x2="2000.05" y2="1157.47" stroke="#D6D6D6" stroke-width="1.4"/>
<line x1="1102.71" y1="1043.12" x2="2000.05" y2="1043.12" stroke="#D6D6D6" stroke-width="1.4"/>
<line x1="1102.71" y1="928.77" x2="2000.05" y2="928.77" stroke="#D6D6D6" stroke-width="1.4"/>
<line x1="1143.50" y1="837.30" x2="1143.50" y2="1340.43" stroke="#D6D6D6" stroke-width="1.4"/>
<line x1="1347.44" y1="837.30" x2="1347.44" y2="1340.43" stroke="#D6D6D6" stroke-width="1.4"/>
<line x1="1551.38" y1="837.30" x2="1551.38" y2="1340.43" stroke="#D6D6D6" stroke-width="1.4"/>
<line x1="1755.32" y1="837.30" x2="1755.32" y2="1340.43" stroke="#D6D6D6" stroke-width="1.4"/>
<line x1="1959.26" y1="837.30" x2="1959.26" y2="1340.43" stroke="#D6D6D6" stroke-width="1.4"/>
<line x1="1102.71" y1="1329.00" x2="2000.05" y2="1329.00" stroke="#D3D3D3" stroke-width="2.7"/>
<line x1="1102.71" y1="1214.65" x2="2000.05" y2="1214.65" stroke="#D3D3D3" stroke-width="2.7"/>
<line x1="1102.71" y1="1100.30" x2="2000.05" y2="1100.30" stroke="#D3D3D3" stroke-width="2.7"/>
<line x1="1102.71" y1="985.95" x2="2000.05" y2="985.95" stroke="#D3D3D3" stroke-width="2.7"/>
<line x1="1102.71" y1="871.60" x2="2000.05" y2="871.60" stroke="#D3D3D3" stroke-width="2.7"/>
<line x1="1245.47" y1="837.30" x2="1245.47" y2="1340.43" stroke="#D3D3D3" stroke-width="2.7"/>
<line x1="1449.41" y1="837.30" x2="1449.41" y2="1340.43" stroke="#D3D3D3" stroke-width="2.7"/>
<line x1="1653.35" y1="837.30" x2="1653.35" y2="1340.43" stroke="#D3D3D3" stroke-width="2.7"/>
<line x1="1857.29" y1="837.30" x2="1857.29" y2="1340.43" stroke="#D3D3D3" stroke-width="2.7"/>
<rect x="1143.50" y="1294.70" width="203.94" height="22.87" fill="#EDF8E9"/>
<rect x="1347.44" y="1294.70" width="203.94" height="22.87" fill="#EDF8E9"/>
<rect x="1551.38" y="1294.70" width="203.94" height="22.87" fill="#6BAED6"/>
<rect x="1755.32" y="1294.70" width="203.94" height="22.87" fill="#FD8D3C"/>
<rect x="1143.50" y="1271.83" width="203.94" height="22.87" fill="#EDF8E9"/>
<rect x="1347.44" y="1271.83" width="203.94" height="22.87" fill="#FD8D3C"/>
<rect x="1551.38" y="1271.83" width="203.94" height="22.87" fill="#6BAED6"/>
<rect x="1755.32" y="1271.83" width="203.94" height="22.87" fill="#EDF8E9"/>
<rect x="1143.50" y="1248.95" width="203.94" height="22.87" fill="#EDF8E9"/>
<rect x="1347.44" y="1248.95" width="203.94" height="22.87" fill="#6BAED6"/>
<rect x="1551.38" y="1248.95" width="203.94" height="22.87" fill="#EDF8E9"/>
<rect x="1755.32" y="1248.95" width="203.94" height="22.87" fill="#EDF8E9"/>
<rect x="1143.50" y="1226.09" width="203.94" height="22.87" fill="#EDF8E9"/>
<rect x="1347.44" y="1226.09" width="203.94" height="22.87" fill="#EDF8E9"/>
<rect x="1551.38" y="1226.09" width="203.94" height="22.87" fill="#EDF8E9"/>
<rect x="1755.32" y="1226.09" width="203.94" height="22.87" fill="#6BAED6"/>
<rect x="1143.50" y="1203.22" width="203.94" height="22.87" fill="#EDF8E9"/>
<rect x="1347.44" y="1203.22" width="203.94" height="22.87" fill="#EDF8E9"/>
<rect x="1551.38" y="1203.22" width="203.94" height="22.87" fill="#EDF8E9"/>
<rect x="1755.32" y="1203.22" width="203.94" height="22.87" fill="#FD8D3C"/>
<rect x="1143.50" y="1180.35" width="203.94" height="22.87" fill="#FD8D3C"/>
<rect x="1347.44" y="1180.35" width="203.94" height="22.87" fill="#EDF8E9"/>
<rect x="1551.38" y="1180.35" width="203.94" height="22.87" fill="#FD8D3C"/>
<rect x="1755.32" y="1180.35" width="203.94" height="22.87" fill="#EDF8E9"/>
<rect x="1143.50" y="1157.47" width="203.94" height="22.87" fill="#EDF8E9"/>
<rect x="1347.44" y="1157.47" width="203.94" height="22.87" fill="#FD8D3C"/>
<rect x="1551.38" y="1157.47" width="203.94" height="22.87" fill="#EDF8E9"/>
<rect x="1755.32" y="1157.47" width="203.94" height="22.87" fill="#EDF8E9"/>
<rect x="1143.50" y="1134.61" width="203.94" height="22.87" fill="#FD8D3C"/>
<rect x="1347.44" y="1134.61" width="203.94" height="22.87" fill="#EDF8E9"/>
<rect x="1551.38" y="1134.61" width="203.94" height="22.87" fill="#6BAED6"/>
<rect x="1755.32" y="1134.61" width="203.94" height="22.87" fill="#EDF8E9"/>
<rect x="1143.50" y="1111.74" width="203.94" height="22.87" fill="#6BAED6"/>
<rect x="1347.44" y="1111.74" width="203.94" height="22.87" fill="#EDF8E9"/>
<rect x="1551.38" y="1111.74" width="203.94" height="22.87" fill="#EDF8E9"/>
<rect x="1755.32" y="1111.74" width="203.94" height="22.87" fill="#EDF8E9"/>
<rect x="1143.50" y="1088.87" width="203.94" height="22.87" fill="#EDF8E9"/>
<rect x="1347.44" y="1088.87" width="203.94" height="22.87" fill="#FD8D3C"/>
<rect x="1551.38" y="1088.87" width="203.94" height="22.87" fill="#FD8D3C"/>
<rect x="1755.32" y="1088.87" width="203.94" height="22.87" fill="#6BAED6"/>
<rect x="1143.50" y="1066.00" width="203.94" height="22.87" fill="#6BAED6"/>
<rect x="1347.44" y="1066.00" width="203.94" height="22.87" fill="#EDF8E9"/>
<rect x="1551.38" y="1066.00" width="203.94" height="22.87" fill="#EDF8E9"/>
<rect x="1755.32" y="1066.00" width="203.94" height="22.87" fill="#6BAED6"/>
<rect x="1143.50" y="1043.12" width="203.94" height="22.87" fill="#EDF8E9"/>
<rect x="1347.44" y="1043.12" width="203.94" height="22.87" fill="#EDF8E9"/>
<rect x="1551.38" y="1043.12" width="203.94" height="22.87" fill="#EDF8E9"/>
<rect x="1755.32" y="1043.12" width="203.94" height="22.87" fill="#EDF8E9"/>
<rect x="1143.50" y="1020.25" width="203.94" height="22.87" fill="#6BAED6"/>
<rect x="1347.44" y="1020.25" width="203.94" height="22.87" fill="#EDF8E9"/>
<rect x="1551.38" y="1020.25" width="203.94" height="22.87" fill="#EDF8E9"/>
<rect x="1755.32" y="1020.25" width="203.94" height="22.87" fill="#EDF8E9"/>
<rect x="1143.50" y="997.38" width="203.94" height="22.87" fill="#FD8D3C"/>
<rect x="1347.44" y="997.38" width="203.94" height="22.87" fill="#EDF8E9"/>
<rect x="1551.38" y="997.38" width="203.94" height="22.87" fill="#EDF8E9"/>
<rect x="1755.32" y="997.38" width="203.94" height="22.87" fill="#EDF8E9"/>
<rect x="1143.50" y="974.51" width="203.94" height="22.87" fill="#EDF8E9"/>
<rect x="1347.44" y="974.51" width="203.94" height="22.87" fill="#6BAED6"/>
<rect x="1551.38" y="974.51" width="203.94" height="22.87" fill="#FD8D3C"/>
<rect x="1755.32" y="974.51" width="203.94" height="22.87" fill="#EDF8E9"/>
<rect x="1143.50" y="951.64" width="203.94" height="22.87" fill="#EDF8E9"/>
<rect x="1347.44" y="951.64" width="203.94" height="22.87" fill="#EDF8E9"/>
<rect x="1551.38" y="951.64" width="203.94" height="22.87" fill="#EDF8E9"/>
<rect x="1755.32" y="951.64" width="203.94" height="22.87" fill="#EDF8E9"/>
<rect x="1143.50" y="928.77" width="203.94" height="22.87" fill="#EDF8E9"/>
<rect x="1347.44" y="928.77" width="203.94" height="22.87" fill="#FD8D3C"/>
<rect x="1551.38" y="928.77" width="203.94" height="22.87" fill="#FD8D3C"/>
<rect x="1755.32" y="928.77" width="203.94" height="22.87" fill="#FD8D3C"/>
<rect x="1143.50" y="905.90" width="203.94" height="22.87" fill="#EDF8E9"/>
<rect x="1347.44" y="905.90" width="203.94" height="22.87" fill="#6BAED6"/>
<rect x="1551.38" y="905.90" width="203.94" height="22.87" fill="#EDF8E9"/>
<rect x="1755.32" y="905.90" width="203.94" height="22.87" fill="#FD8D3C"/>
<rect x="1143.50" y="883.03" width="203.94" height="22.87" fill="#EDF8E9"/>
<rect x="1347.44" y="883.03" width="203.94" height="22.87" fill="#EDF8E9"/>
<rect x="1551.38" y="883.03" width="203.94" height="22.87" fill="#EDF8E9"/>
<rect x="1755.32" y="883.03" width="203.94" height="22.87" fill="#EDF8E9"/>
<rect x="1143.50" y="860.17" width="203.94" height="22.87" fill="#FD8D3C"/>
<rect x="1347.44" y="860.17" width="203.94" height="22.87" fill="#EDF8E9"/>
<rect x="1551.38" y="860.17" width="203.94" height="22.87" fill="#EDF8E9"/>
<rect x="1755.32" y="860.17" width="203.94" height="22.87" fill="#EDF8E9"/>
<line x1="1143.50" y1="1317.57" x2="1959.26" y2="1317.57" stroke="#000" stroke-opacity="0.78" stroke-width="1.0"/>
<line x1="1143.50" y1="1294.70" x2="1959.26" y2="1294.70" stroke="#000" stroke-opacity="0.78" stroke-width="1.0"/>
<line x1="1143.50" y1="1271.83" x2="1959.26" y2="1271.83" stroke="#000" stroke-opacity="0.78" stroke-width="1.0"/>
<line x1="1143.50" y1="1248.95" x2="1959.26" y2="1248.95" stroke="#000" stroke-opacity="0.78" stroke-width="1.0"/>
<line x1="1143.50" y1="1226.09" x2="1959.26" y2="1226.09" stroke="#000" stroke-opacity="0.78" stroke-width="1.0"/>
<line x1="1143.50" y1="1203.22" x2="1959.26" y2="1203.22" stroke="#000" stroke-opacity="0.78" stroke-width="1.0"/>
<line x1="1143.50" y1="1180.35" x2="1959.26" y2="1180.35" stroke="#000" stroke-opacity="0.78" stroke-width="1.0"/>
<line x1="1143.50" y1="1157.47" x2="1959.26" y2="1157.47" stroke="#000" stroke-opacity="0.78" stroke-width="1.0"/>
<line x1="1143.50" y1="1134.61" x2="1959.26" y2="1134.61" stroke="#000" stroke-opacity="0.78" stroke-width="1.0"/>
<line x1="1143.50" y1="1111.74" x2="1959.26" y2="1111.74" stroke="#000" stroke-opacity="0.78" stroke-width="1.0"/>
<line x1="1143.50" y1="1088.87" x2="1959.26" y2="1088.87" stroke="#000" stroke-opacity="0.78" stroke-width="1.0"/>
<line x1="1143.50" y1="1066.00" x2="1959.26" y2="1066.00" stroke="#000" stroke-opacity="0.78" stroke-width="1.0"/>
<line x1="1143.50" y1="1043.12" x2="1959.26" y2="1043.12" stroke="#000" stroke-opacity="0.78" stroke-width="1.0"/>
<line x1="1143.50" y1="1020.25" x2="1959.26" y2="1020.25" stroke="#000" stroke-opacity="0.78" stroke-width="1.0"/>
<line x1="1143.50" y1="997.38" x2="1959.26" y2="997.38" stroke="#000" stroke-opacity="0.78" stroke-width="1.0"/>
<line x1="1143.50" y1="974.51" x2="1959.26" y2="974.51" stroke="#000" stroke-opacity="0.78" stroke-width="1.0"/>
<line x1="1143.50" y1="951.64" x2="1959.26" y2="951.64" stroke="#000" stroke-opacity="0.78" stroke-width="1.0"/>
<line x1="1143.50" y1="928.77" x2="1959.26" y2="928.77" stroke="#000" stroke-opacity="0.78" stroke-width="1.0"/>
<line x1="1143.50" y1="905.90" x2="1959.26" y2="905.90" stroke="#000" stroke-opacity="0.78" stroke-width="1.0"/>
<line x1="1143.50" y1="883.03" x2="1959.26" y2="883.03" stroke="#000" stroke-opacity="0.78" stroke-width="1.0"/>
<line x1="1143.50" y1="860.17" x2="1959.26" y2="860.17" stroke="#000" stroke-opacity="0.78" stroke-width="1.0"/>
<line x1="1143.50" y1="860.17" x2="1143.50" y2="1317.57" stroke="#000" stroke-opacity="0.78" stroke-width="1.0"/>
<line x1="1347.44" y1="860.17" x2="1347.44" y2="1317.57" stroke="#000" stroke-opacity="0.78" stroke-width="1.0"/>
<line x1="1551.38" y1="860.17" x2="1551.38" y2="1317.57" stroke="#000" stroke-opacity="0.78" stroke-width="1.0"/>
<line x1="1755.32" y1="860.17" x2="1755.32" y2="1317.57" stroke="#000" stroke-opacity="0.78" stroke-width="1.0"/>
<line x1="1959.26" y1="860.17" x2="1959.26" y2="1317.57" stroke="#000" stroke-opacity="0.78" stroke-width="1.0"/>
<line x1="1095.91" y1="1329.00" x2="1102.71" y2="1329.00" stroke="#333333" stroke-width="2.8"/>
<text transform="translate(1090.91,1336.60) scale(1,1.01)" text-anchor="end" font-size="21.5" fill="#4D4D4D">0</text>
<line x1="1095.91" y1="1214.65" x2="1102.71" y2="1214.65" stroke="#333333" stroke-width="2.8"/>
<text transform="translate(1090.91,1222.25) scale(1,1.01)" text-anchor="end" font-size="21.5" fill="#4D4D4D">5</text>
<line x1="1095.91" y1="1100.30" x2="1102.71" y2="1100.30" stroke="#333333" stroke-width="2.8"/>
<text transform="translate(1090.91,1107.90) scale(1,1.01)" text-anchor="end" font-size="21.5" fill="#4D4D4D">10</text>
<line x1="1095.91" y1="985.95" x2="1102.71" y2="985.95" stroke="#333333" stroke-width="2.8"/>
<text transform="translate(1090.91,993.55) scale(1,1.01)" text-anchor="end" font-size="21.5" fill="#4D4D4D">15</text>
<line x1="1095.91" y1="871.60" x2="1102.71" y2="871.60" stroke="#333333" stroke-width="2.8"/>
<text transform="translate(1090.91,879.20) scale(1,1.01)" text-anchor="end" font-size="21.5" fill="#4D4D4D">20</text>
<line x1="1245.47" y1="1340.43" x2="1245.47" y2="1347.53" stroke="#333333" stroke-width="2.8"/>
<text transform="translate(1245.47,1367.73) scale(1,1.01)" text-anchor="middle" font-size="21.5" fill="#4D4D4D">1</text>
<line x1="1449.41" y1="1340.43" x2="1449.41" y2="1347.53" stroke="#333333" stroke-width="2.8"/>
<text transform="translate(1449.41,1367.73) scale(1,1.01)" text-anchor="middle" font-size="21.5" fill="#4D4D4D">2</text>
<line x1="1653.35" y1="1340.43" x2="1653.35" y2="1347.53" stroke="#333333" stroke-width="2.8"/>
<text transform="translate(1653.35,1367.73) scale(1,1.01)" text-anchor="middle" font-size="21.5" fill="#4D4D4D">3</text>
<line x1="1857.29" y1="1340.43" x2="1857.29" y2="1347.53" stroke="#333333" stroke-width="2.8"/>
<text transform="translate(1857.29,1367.73) scale(1,1.01)" text-anchor="middle" font-size="21.5" fill="#4D4D4D">4</text>
<text transform="translate(1551.38,1398.43) scale(1,1.04)" text-anchor="middle" font-size="26.4" fill="#000">Row</text>
<text transform="translate(1055.20,1088.87) rotate(-90) scale(1,1.04)" text-anchor="middle" font-size="26.4" fill="#000">Column</text>
<text transform="translate(1013.10,739.70) scale(1,1.025)" font-size="31.3" font-weight="bold" fill="#000">D</text>
<defs><linearGradient id="gA" x1="0" y1="0" x2="1" y2="0"><stop offset="0.0000" stop-color="#30123b"/><stop offset="0.0167" stop-color="#351d49"/><stop offset="0.0333" stop-color="#3a2858"/><stop offset="0.0500" stop-color="#3e3367"/><stop offset="0.0667" stop-color="#413e77"/><stop offset="0.0833" stop-color="#444986"/><stop offset="0.1000" stop-color="#455497"/><stop offset="0.1167" stop-color="#475fa7"/><stop offset="0.1333" stop-color="#476bb8"/><stop offset="0.1500" stop-color="#4777c9"/><stop offset="0.1667" stop-color="#4583db"/><stop offset="0.1833" stop-color="#438fec"/><stop offset="0.2000" stop-color="#3e9bfe"/><stop offset="0.2167" stop-color="#4aa3f5"/><stop offset="0.2333" stop-color="#52abeb"/><stop offset="0.2500" stop-color="#58b2e2"/><stop offset="0.2667" stop-color="#5cbad8"/><stop offset="0.2833" stop-color="#5fc1ce"/><stop offset="0.3000" stop-color="#60c9c4"/><stop offset="0.3167" stop-color="#60d1ba"/><stop offset="0.3333" stop-color="#5ed9b0"/><stop offset="0.3500" stop-color="#5be0a6"/><stop offset="0.3667" stop-color="#56e89b"/><stop offset="0.3833" stop-color="#50f090"/><stop offset="0.4000" stop-color="#46f884"/><stop offset="0.4167" stop-color="#60f67e"/><stop offset="0.4333" stop-color="#73f478"/><stop offset="0.4500" stop-color="#83f273"/><stop offset="0.4667" stop-color="#91f06d"/><stop offset="0.4833" stop-color="#9eed67"/><stop offset="0.5000" stop-color="#a9eb61"/><stop offset="0.5167" stop-color="#b4e95b"/><stop offset="0.5333" stop-color="#bee754"/><stop offset="0.5500" stop-color="#c7e44e"/><stop offset="0.5667" stop-color="#d0e247"/><stop offset="0.5833" stop-color="#d9df3f"/><stop offset="0.6000" stop-color="#e1dd37"/><stop offset="0.6167" stop-color="#e4d334"/><stop offset="0.6333" stop-color="#e7c930"/><stop offset="0.6500" stop-color="#e9bf2d"/><stop offset="0.6667" stop-color="#ebb52a"/><stop offset="0.6833" stop-color="#ecab26"/><stop offset="0.7000" stop-color="#eea123"/><stop offset="0.7167" stop-color="#ef9620"/><stop offset="0.7333" stop-color="#ef8b1d"/><stop offset="0.7500" stop-color="#f0801a"/><stop offset="0.7667" stop-color="#f07417"/><stop offset="0.7833" stop-color="#f06814"/><stop offset="0.8000" stop-color="#f05b12"/><stop offset="0.8167" stop-color="#e65411"/><stop offset="0.8333" stop-color="#db4d10"/><stop offset="0.8500" stop-color="#d1470f"/><stop offset="0.8667" stop-color="#c7400d"/><stop offset="0.8833" stop-color="#bd3a0c"/><stop offset="0.9000" stop-color="#b3330b"/><stop offset="0.9167" stop-color="#aa2c0a"/><stop offset="0.9333" stop-color="#a02509"/><stop offset="0.9500" stop-color="#961e08"/><stop offset="0.9667" stop-color="#8d1707"/><stop offset="0.9833" stop-color="#840e05"/><stop offset="1.0000" stop-color="#7a0403"/></linearGradient></defs>
<rect x="491.50" y="39.00" width="208.70" height="41.70" fill="url(#gA)"/>
<line x1="493.20" y1="39.00" x2="493.20" y2="47.34" stroke="#fff" stroke-width="1.6"/>
<line x1="493.20" y1="72.36" x2="493.20" y2="80.70" stroke="#fff" stroke-width="1.6"/>
<text transform="translate(493.20,109.60) scale(1,1.01)" text-anchor="middle" font-size="21.5" fill="#000">−2</text>
<line x1="547.00" y1="39.00" x2="547.00" y2="47.34" stroke="#fff" stroke-width="1.6"/>
<line x1="547.00" y1="72.36" x2="547.00" y2="80.70" stroke="#fff" stroke-width="1.6"/>
<text transform="translate(547.00,109.60) scale(1,1.01)" text-anchor="middle" font-size="21.5" fill="#000">−1</text>
<line x1="600.80" y1="39.00" x2="600.80" y2="47.34" stroke="#fff" stroke-width="1.6"/>
<line x1="600.80" y1="72.36" x2="600.80" y2="80.70" stroke="#fff" stroke-width="1.6"/>
<text transform="translate(600.80,109.60) scale(1,1.01)" text-anchor="middle" font-size="21.5" fill="#000">0</text>
<line x1="654.60" y1="39.00" x2="654.60" y2="47.34" stroke="#fff" stroke-width="1.6"/>
<line x1="654.60" y1="72.36" x2="654.60" y2="80.70" stroke="#fff" stroke-width="1.6"/>
<text transform="translate(654.60,109.60) scale(1,1.01)" text-anchor="middle" font-size="21.5" fill="#000">1</text>
<text transform="translate(376.00,87.00) scale(1,1.04)" font-size="26.4" fill="#000">Residual</text>
<defs><linearGradient id="gB" x1="0" y1="0" x2="1" y2="0"><stop offset="0.0000" stop-color="#30123b"/><stop offset="0.0167" stop-color="#351d49"/><stop offset="0.0333" stop-color="#3a2858"/><stop offset="0.0500" stop-color="#3e3367"/><stop offset="0.0667" stop-color="#413e77"/><stop offset="0.0833" stop-color="#444986"/><stop offset="0.1000" stop-color="#455497"/><stop offset="0.1167" stop-color="#475fa7"/><stop offset="0.1333" stop-color="#476bb8"/><stop offset="0.1500" stop-color="#4777c9"/><stop offset="0.1667" stop-color="#4583db"/><stop offset="0.1833" stop-color="#438fec"/><stop offset="0.2000" stop-color="#3e9bfe"/><stop offset="0.2167" stop-color="#4aa3f5"/><stop offset="0.2333" stop-color="#52abeb"/><stop offset="0.2500" stop-color="#58b2e2"/><stop offset="0.2667" stop-color="#5cbad8"/><stop offset="0.2833" stop-color="#5fc1ce"/><stop offset="0.3000" stop-color="#60c9c4"/><stop offset="0.3167" stop-color="#60d1ba"/><stop offset="0.3333" stop-color="#5ed9b0"/><stop offset="0.3500" stop-color="#5be0a6"/><stop offset="0.3667" stop-color="#56e89b"/><stop offset="0.3833" stop-color="#50f090"/><stop offset="0.4000" stop-color="#46f884"/><stop offset="0.4167" stop-color="#60f67e"/><stop offset="0.4333" stop-color="#73f478"/><stop offset="0.4500" stop-color="#83f273"/><stop offset="0.4667" stop-color="#91f06d"/><stop offset="0.4833" stop-color="#9eed67"/><stop offset="0.5000" stop-color="#a9eb61"/><stop offset="0.5167" stop-color="#b4e95b"/><stop offset="0.5333" stop-color="#bee754"/><stop offset="0.5500" stop-color="#c7e44e"/><stop offset="0.5667" stop-color="#d0e247"/><stop offset="0.5833" stop-color="#d9df3f"/><stop offset="0.6000" stop-color="#e1dd37"/><stop offset="0.6167" stop-color="#e4d334"/><stop offset="0.6333" stop-color="#e7c930"/><stop offset="0.6500" stop-color="#e9bf2d"/><stop offset="0.6667" stop-color="#ebb52a"/><stop offset="0.6833" stop-color="#ecab26"/><stop offset="0.7000" stop-color="#eea123"/><stop offset="0.7167" stop-color="#ef9620"/><stop offset="0.7333" stop-color="#ef8b1d"/><stop offset="0.7500" stop-color="#f0801a"/><stop offset="0.7667" stop-color="#f07417"/><stop offset="0.7833" stop-color="#f06814"/><stop offset="0.8000" stop-color="#f05b12"/><stop offset="0.8167" stop-color="#e65411"/><stop offset="0.8333" stop-color="#db4d10"/><stop offset="0.8500" stop-color="#d1470f"/><stop offset="0.8667" stop-color="#c7400d"/><stop offset="0.8833" stop-color="#bd3a0c"/><stop offset="0.9000" stop-color="#b3330b"/><stop offset="0.9167" stop-color="#aa2c0a"/><stop offset="0.9333" stop-color="#a02509"/><stop offset="0.9500" stop-color="#961e08"/><stop offset="0.9667" stop-color="#8d1707"/><stop offset="0.9833" stop-color="#840e05"/><stop offset="1.0000" stop-color="#7a0403"/></linearGradient></defs>
<rect x="1482.80" y="39.00" width="208.20" height="41.70" fill="url(#gB)"/>
<line x1="1484.70" y1="39.00" x2="1484.70" y2="47.34" stroke="#fff" stroke-width="1.6"/>
<line x1="1484.70" y1="72.36" x2="1484.70" y2="80.70" stroke="#fff" stroke-width="1.6"/>
<text transform="translate(1484.70,109.60) scale(1,1.01)" text-anchor="middle" font-size="21.5" fill="#000">−2</text>
<line x1="1519.60" y1="39.00" x2="1519.60" y2="47.34" stroke="#fff" stroke-width="1.6"/>
<line x1="1519.60" y1="72.36" x2="1519.60" y2="80.70" stroke="#fff" stroke-width="1.6"/>
<text transform="translate(1519.60,109.60) scale(1,1.01)" text-anchor="middle" font-size="21.5" fill="#000">−1</text>
<line x1="1554.50" y1="39.00" x2="1554.50" y2="47.34" stroke="#fff" stroke-width="1.6"/>
<line x1="1554.50" y1="72.36" x2="1554.50" y2="80.70" stroke="#fff" stroke-width="1.6"/>
<text transform="translate(1554.50,109.60) scale(1,1.01)" text-anchor="middle" font-size="21.5" fill="#000">0</text>
<line x1="1589.40" y1="39.00" x2="1589.40" y2="47.34" stroke="#fff" stroke-width="1.6"/>
<line x1="1589.40" y1="72.36" x2="1589.40" y2="80.70" stroke="#fff" stroke-width="1.6"/>
<text transform="translate(1589.40,109.60) scale(1,1.01)" text-anchor="middle" font-size="21.5" fill="#000">1</text>
<line x1="1624.30" y1="39.00" x2="1624.30" y2="47.34" stroke="#fff" stroke-width="1.6"/>
<line x1="1624.30" y1="72.36" x2="1624.30" y2="80.70" stroke="#fff" stroke-width="1.6"/>
<text transform="translate(1624.30,109.60) scale(1,1.01)" text-anchor="middle" font-size="21.5" fill="#000">2</text>
<line x1="1659.20" y1="39.00" x2="1659.20" y2="47.34" stroke="#fff" stroke-width="1.6"/>
<line x1="1659.20" y1="72.36" x2="1659.20" y2="80.70" stroke="#fff" stroke-width="1.6"/>
<text transform="translate(1659.20,109.60) scale(1,1.01)" text-anchor="middle" font-size="21.5" fill="#000">3</text>
<text transform="translate(1412.00,87.00) scale(1,1.04)" font-size="26.4" fill="#000">DGE</text>
<defs><linearGradient id="gC" x1="0" y1="0" x2="1" y2="0"><stop offset="0.0000" stop-color="#30123b"/><stop offset="0.0167" stop-color="#351d49"/><stop offset="0.0333" stop-color="#3a2858"/><stop offset="0.0500" stop-color="#3e3367"/><stop offset="0.0667" stop-color="#413e77"/><stop offset="0.0833" stop-color="#444986"/><stop offset="0.1000" stop-color="#455497"/><stop offset="0.1167" stop-color="#475fa7"/><stop offset="0.1333" stop-color="#476bb8"/><stop offset="0.1500" stop-color="#4777c9"/><stop offset="0.1667" stop-color="#4583db"/><stop offset="0.1833" stop-color="#438fec"/><stop offset="0.2000" stop-color="#3e9bfe"/><stop offset="0.2167" stop-color="#4aa3f5"/><stop offset="0.2333" stop-color="#52abeb"/><stop offset="0.2500" stop-color="#58b2e2"/><stop offset="0.2667" stop-color="#5cbad8"/><stop offset="0.2833" stop-color="#5fc1ce"/><stop offset="0.3000" stop-color="#60c9c4"/><stop offset="0.3167" stop-color="#60d1ba"/><stop offset="0.3333" stop-color="#5ed9b0"/><stop offset="0.3500" stop-color="#5be0a6"/><stop offset="0.3667" stop-color="#56e89b"/><stop offset="0.3833" stop-color="#50f090"/><stop offset="0.4000" stop-color="#46f884"/><stop offset="0.4167" stop-color="#60f67e"/><stop offset="0.4333" stop-color="#73f478"/><stop offset="0.4500" stop-color="#83f273"/><stop offset="0.4667" stop-color="#91f06d"/><stop offset="0.4833" stop-color="#9eed67"/><stop offset="0.5000" stop-color="#a9eb61"/><stop offset="0.5167" stop-color="#b4e95b"/><stop offset="0.5333" stop-color="#bee754"/><stop offset="0.5500" stop-color="#c7e44e"/><stop offset="0.5667" stop-color="#d0e247"/><stop offset="0.5833" stop-color="#d9df3f"/><stop offset="0.6000" stop-color="#e1dd37"/><stop offset="0.6167" stop-color="#e4d334"/><stop offset="0.6333" stop-color="#e7c930"/><stop offset="0.6500" stop-color="#e9bf2d"/><stop offset="0.6667" stop-color="#ebb52a"/><stop offset="0.6833" stop-color="#ecab26"/><stop offset="0.7000" stop-color="#eea123"/><stop offset="0.7167" stop-color="#ef9620"/><stop offset="0.7333" stop-color="#ef8b1d"/><stop offset="0.7500" stop-color="#f0801a"/><stop offset="0.7667" stop-color="#f07417"/><stop offset="0.7833" stop-color="#f06814"/><stop offset="0.8000" stop-color="#f05b12"/><stop offset="0.8167" stop-color="#e65411"/><stop offset="0.8333" stop-color="#db4d10"/><stop offset="0.8500" stop-color="#d1470f"/><stop offset="0.8667" stop-color="#c7400d"/><stop offset="0.8833" stop-color="#bd3a0c"/><stop offset="0.9000" stop-color="#b3330b"/><stop offset="0.9167" stop-color="#aa2c0a"/><stop offset="0.9333" stop-color="#a02509"/><stop offset="0.9500" stop-color="#961e08"/><stop offset="0.9667" stop-color="#8d1707"/><stop offset="0.9833" stop-color="#840e05"/><stop offset="1.0000" stop-color="#7a0403"/></linearGradient></defs>
<rect x="463.00" y="757.30" width="208.20" height="41.40" fill="url(#gC)"/>
<line x1="483.69" y1="757.30" x2="483.69" y2="765.58" stroke="#fff" stroke-width="1.6"/>
<line x1="483.69" y1="790.42" x2="483.69" y2="798.70" stroke="#fff" stroke-width="1.6"/>
<text transform="translate(483.69,826.70) scale(1,1.01)" text-anchor="middle" font-size="21.5" fill="#000">−1.0</text>
<line x1="531.57" y1="757.30" x2="531.57" y2="765.58" stroke="#fff" stroke-width="1.6"/>
<line x1="531.57" y1="790.42" x2="531.57" y2="798.70" stroke="#fff" stroke-width="1.6"/>
<text transform="translate(531.57,826.70) scale(1,1.01)" text-anchor="middle" font-size="21.5" fill="#000">−0.5</text>
<line x1="579.44" y1="757.30" x2="579.44" y2="765.58" stroke="#fff" stroke-width="1.6"/>
<line x1="579.44" y1="790.42" x2="579.44" y2="798.70" stroke="#fff" stroke-width="1.6"/>
<text transform="translate(579.44,826.70) scale(1,1.01)" text-anchor="middle" font-size="21.5" fill="#000">0.0</text>
<line x1="627.32" y1="757.30" x2="627.32" y2="765.58" stroke="#fff" stroke-width="1.6"/>
<line x1="627.32" y1="790.42" x2="627.32" y2="798.70" stroke="#fff" stroke-width="1.6"/>
<text transform="translate(627.32,826.70) scale(1,1.01)" text-anchor="middle" font-size="21.5" fill="#000">0.5</text>
<text transform="translate(404.40,802.70) scale(1,1.04)" font-size="26.4" fill="#000">IGE</text>
<text transform="translate(1258.40,786.75) scale(1,1.04)" font-size="26.4" fill="#000">Class</text>
<rect x="1339.20" y="756.4" width="41" height="41.2" fill="#FD8D3C" stroke="#333333" stroke-width="1.1"/>
<text transform="translate(1394.70,784.80) scale(1,1.05)" font-size="21.5" fill="#000">Aggressive</text>
<rect x="1513.10" y="756.4" width="41" height="41.2" fill="#EDF8E9" stroke="#333333" stroke-width="1.1"/>
<text transform="translate(1567.60,784.80) scale(1,1.05)" font-size="21.5" fill="#000">Homeostatic</text>
<rect x="1701.90" y="756.4" width="41" height="41.2" fill="#6BAED6" stroke="#333333" stroke-width="1.1"/>
<text transform="translate(1756.70,784.80) scale(1,1.05)" font-size="21.5" fill="#000">Sensitive</text>
</svg>
</body></html>
